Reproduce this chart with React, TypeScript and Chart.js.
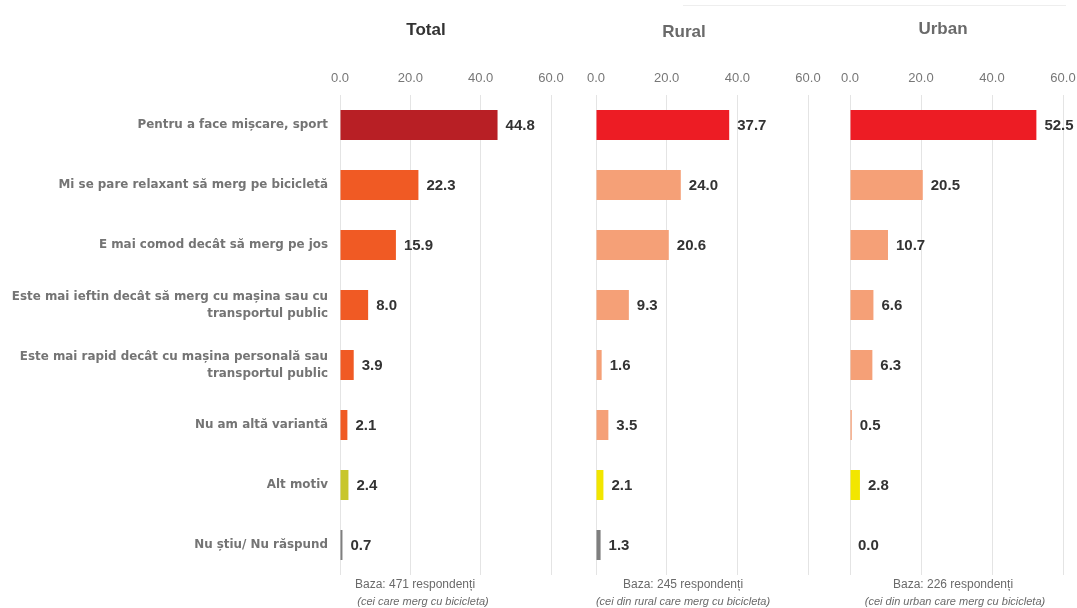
import React, { useEffect, useRef } from "react";
import { Chart, registerables } from "chart.js";

Chart.register(...registerables);

const FONT = "'Liberation Sans', Arial, sans-serif";
const LABEL_FONT = "'DejaVu Sans', 'Liberation Sans', Arial, sans-serif";

const categories: (string | string[])[] = [
  "Pentru a face mișcare, sport",
  "Mi se pare relaxant să merg pe bicicletă",
  "E mai comod decât să merg pe jos",
  ["Este mai ieftin decât să merg cu mașina sau cu", "transportul public"],
  ["Este mai rapid decât cu mașina personală sau", "transportul public"],
  "Nu am altă variantă",
  "Alt motiv",
  "Nu știu/ Nu răspund",
];

const totalValues = [44.8, 22.3, 15.9, 8.0, 3.9, 2.1, 2.4, 0.7];
const ruralValues = [37.7, 24.0, 20.6, 9.3, 1.6, 3.5, 2.1, 1.3];
const urbanValues = [52.5, 20.5, 10.7, 6.6, 6.3, 0.5, 2.8, 0.0];

const xTicks = [0, 20, 40, 60];

const totalColors = ["#B81F25", "#F05A24", "#F05A24", "#F05A24", "#F05A24", "#F05A24", "#C8C62C", "#7F7F7F"];
const ruralColors = ["#ED1C24", "#F5A077", "#F5A077", "#F5A077", "#F5A077", "#F5A077", "#F2E600", "#7F7F7F"];
const urbanColors = ["#ED1C24", "#F5A077", "#F5A077", "#F5A077", "#F5A077", "#F5A077", "#F2E600", "#7F7F7F"];

const panelTitles = ["Total", "Rural", "Urban"];
const baseLines = ["Baza: 471 respondenți", "Baza: 245 respondenți", "Baza: 226 respondenți"];
const baseNotes = [
  "(cei care merg cu bicicleta)",
  "(cei din rural care merg cu bicicleta)",
  "(cei din urban care merg cu bicicleta)",
];

const W = 1077;
const H = 608;
const CW = 1140; // canvas width (wider than the page so the right-most panel is not squeezed)

const valueLabels = {
  id: "valueLabels",
  afterDatasetsDraw(chart: any) {
    const ctx = chart.ctx;
    const meta = chart.getDatasetMeta(0);
    const data = chart.data.datasets[0].data as number[];
    ctx.save();
    ctx.font = `bold 15px ${FONT}`;
    ctx.fillStyle = "#333333";
    ctx.textBaseline = "middle";
    ctx.textAlign = "left";
    meta.data.forEach((bar: any, i: number) => {
      ctx.fillText(Number(data[i]).toFixed(1), bar.x + 8, bar.y + 1);
    });
    ctx.restore();
  },
};

function makeConfig(values: number[], colors: string[], padLeft: number, padRight: number, showY: boolean): any {
  return {
    type: "bar",
    data: {
      labels: categories,
      datasets: [
        {
          data: values,
          backgroundColor: colors,
          borderWidth: 0,
          barPercentage: 1,
          categoryPercentage: 0.5,
        },
      ],
    },
    options: {
      indexAxis: "y",
      animation: false,
      responsive: false,
      maintainAspectRatio: false,
      layout: { padding: { left: padLeft, right: padRight, top: 0, bottom: 33 } },
      plugins: {
        legend: { display: false },
        tooltip: { enabled: false },
        title: { display: false },
      },
      scales: {
        x: {
          position: "top",
          min: 0,
          max: 60,
          afterBuildTicks: (s: any) => {
            s.ticks = xTicks.map((v) => ({ value: v }));
          },
          afterFit: (s: any) => {
            s.height = 95;
          },
          ticks: {
            callback: (v: any) => Number(v).toFixed(1),
            color: "#777777",
            font: { family: FONT, size: 13 },
            padding: 9,
            maxRotation: 0,
          },
          grid: { color: "#e4e4e4", drawTicks: false, lineWidth: 1 },
          border: { display: false },
        },
        y: {
          display: showY,
          afterFit: (s: any) => {
            s.width = showY ? 340 : 0;
          },
          ticks: {
            color: "#747474",
            font: { family: LABEL_FONT, size: 11.9, weight: "bold", lineHeight: 1.42 },
            padding: 4,
            crossAlign: "near",
          },
          grid: { display: false },
          border: { display: false },
        },
      },
    },
    plugins: [valueLabels],
  };
}

function Label(props: { cx: number; cy: number; text: string; style?: React.CSSProperties }) {
  return (
    <div
      style={{
        position: "absolute",
        left: props.cx - 200,
        width: 400,
        top: props.cy - 10,
        height: 20,
        lineHeight: "20px",
        textAlign: "center",
        whiteSpace: "nowrap",
        fontFamily: FONT,
        ...props.style,
      }}
    >
      {props.text}
    </div>
  );
}

export default function App() {
  const c1 = useRef<HTMLCanvasElement>(null);
  const c2 = useRef<HTMLCanvasElement>(null);
  const c3 = useRef<HTMLCanvasElement>(null);

  useEffect(() => {
    const charts = [
      new Chart(c1.current as HTMLCanvasElement, makeConfig(totalValues, totalColors, 0, CW - 551, true)),
      new Chart(c2.current as HTMLCanvasElement, makeConfig(ruralValues, ruralColors, 596, CW - 808, false)),
      new Chart(c3.current as HTMLCanvasElement, makeConfig(urbanValues, urbanColors, 850, CW - 1063, false)),
    ];
    return () => charts.forEach((c) => c.destroy());
  }, []);

  const canvasStyle: React.CSSProperties = { position: "absolute", left: 0, top: 0, width: CW, height: H };

  const titleCx = [426, 684, 943];
  const titleCy = [30, 32, 29];
  const noteCx1 = [415, 683, 953];
  const noteCx2 = [423, 683, 955];

  return (
    <div style={{ position: "fixed", left: 0, top: 0, width: W, height: H, background: "#ffffff", overflow: "hidden" }}>
      <div style={{ position: "absolute", left: 683, top: 5, width: 383, height: 0, borderTop: "1px solid #eeeeee" }} />
      <canvas ref={c1} width={CW} height={H} style={canvasStyle} />
      <canvas ref={c2} width={CW} height={H} style={canvasStyle} />
      <canvas ref={c3} width={CW} height={H} style={canvasStyle} />
      {panelTitles.map((t, i) => (
        <Label
          key={"t" + i}
          cx={titleCx[i]}
          cy={titleCy[i]}
          text={t}
          style={{ fontSize: 17, fontWeight: "bold", color: i === 0 ? "#333333" : "#6a6a6a" }}
        />
      ))}
      {baseLines.map((t, i) => (
        <Label key={"b" + i} cx={noteCx1[i]} cy={584} text={t} style={{ fontSize: 12, color: "#6a6a6a" }} />
      ))}
      {baseNotes.map((t, i) => (
        <Label key={"n" + i} cx={noteCx2[i]} cy={601} text={t} style={{ fontSize: 11, fontStyle: "italic", color: "#6a6a6a" }} />
      ))}
    </div>
  );
}
